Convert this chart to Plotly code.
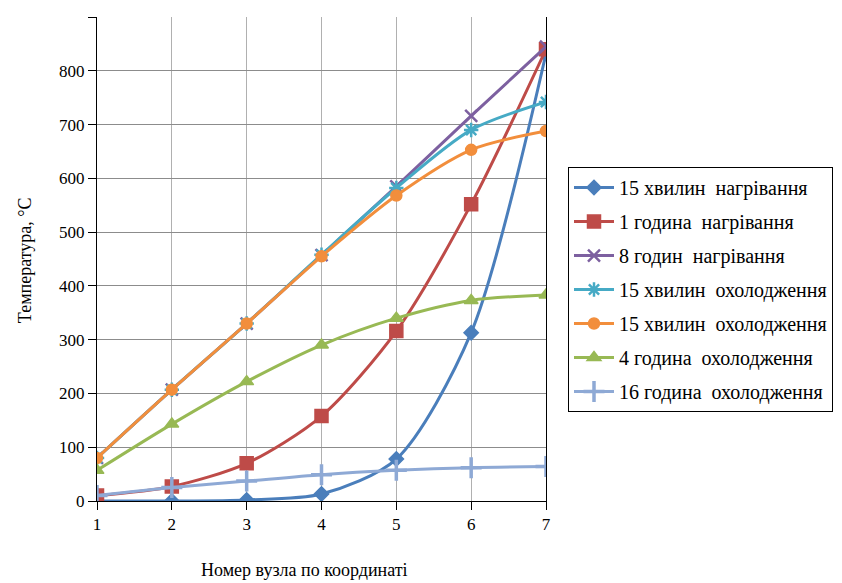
import plotly.graph_objects as go

nodes = [1, 2, 3, 4, 5, 6, 7]
heat_15min = [0, 0, 2, 13, 78, 313, 832]
heat_1h = [10, 27, 70, 158, 316, 552, 840]
heat_8h = [80, 207, 330, 457, 585, 716, 845]
cool_15min_a = [80, 207, 330, 458, 582, 690, 742]
cool_15min_b = [80, 207, 330, 455, 568, 653, 688]
cool_4h = [57, 143, 222, 290, 340, 373, 383]
cool_16h = [10, 25, 37, 49, 57, 62, 64]

names = ["15 хвилин  нагрівання", "1 година  нагрівання", "8 годин  нагрівання",
         "15 хвилин  охолодження", "15 хвилин  охолодження", "4 година  охолодження",
         "16 година  охолодження"]
series = [heat_15min, heat_1h, heat_8h, cool_15min_a, cool_15min_b, cool_4h, cool_16h]
colors = ["#4A7EBB", "#BE4B48", "#7D60A0", "#46AAC5", "#F28E3C", "#98B954", "#8EA9D5"]
symbols = ["diamond", "square", "x-thin-open", "asterisk-open", "circle", "triangle-up", "cross-thin-open"]
sizes = [11, 13, 12, 12, 11, 12, 15]
widths = [1.5, 1.5, 2.5, 2.5, 1.5, 1.5, 3.5]

fig = go.Figure()
for i, (nm, ys, c, s, sz, w) in enumerate(zip(names, series, colors, symbols, sizes, widths)):
    fig.add_trace(go.Scatter(
        x=nodes, y=ys, name=nm, mode="lines+markers", legendgroup=str(i),
        line=dict(color=c, width=3, shape="spline", smoothing=0.8),
        marker=dict(symbol=s, size=sz, color=c, line=dict(color=c, width=w)),
    ))

font = "Liberation Serif, serif"
fig.update_layout(
    width=834, height=575,
    margin=dict(l=89, r=294, t=9, b=82),
    paper_bgcolor="white", plot_bgcolor="white",
    font=dict(family=font, size=17, color="black"),
    showlegend=True,
    legend=dict(x=1.049, y=0.69, xanchor="left", yanchor="top",
                bordercolor="black", borderwidth=1, bgcolor="white",
                font=dict(family=font, size=20), tracegroupgap=5,
                itemwidth=40),
    xaxis=dict(range=[1, 7], tickmode="array", tickvals=nodes,
               showgrid=True, gridcolor="#B0B0B0", gridwidth=1,
               showline=True, linecolor="black", linewidth=1,
               ticks="outside", ticklen=8, tickcolor="black",
               tickfont=dict(family=font, size=17),
               zeroline=False, automargin=False),
    yaxis=dict(range=[0, 900], dtick=100,
               showgrid=True, gridcolor="#8C8C8C", gridwidth=1,
               showline=True, linecolor="black", linewidth=1, mirror=True,
               ticks="outside", ticklen=8, tickcolor="black",
               tickfont=dict(family=font, size=17),
               zeroline=False, automargin=False),
    annotations=[
        dict(text="Номер вузла по координаті", xref="paper", yref="paper",
             x=0.462, y=-0.1426, xanchor="center", yanchor="middle",
             showarrow=False, font=dict(family=font, size=18)),
        dict(text="Температура, °С", xref="paper", yref="paper",
             x=-0.16, y=0.498, xanchor="center", yanchor="middle", textangle=-90,
             showarrow=False, font=dict(family=font, size=18)),
    ],
)
fig.write_html("out.html")
